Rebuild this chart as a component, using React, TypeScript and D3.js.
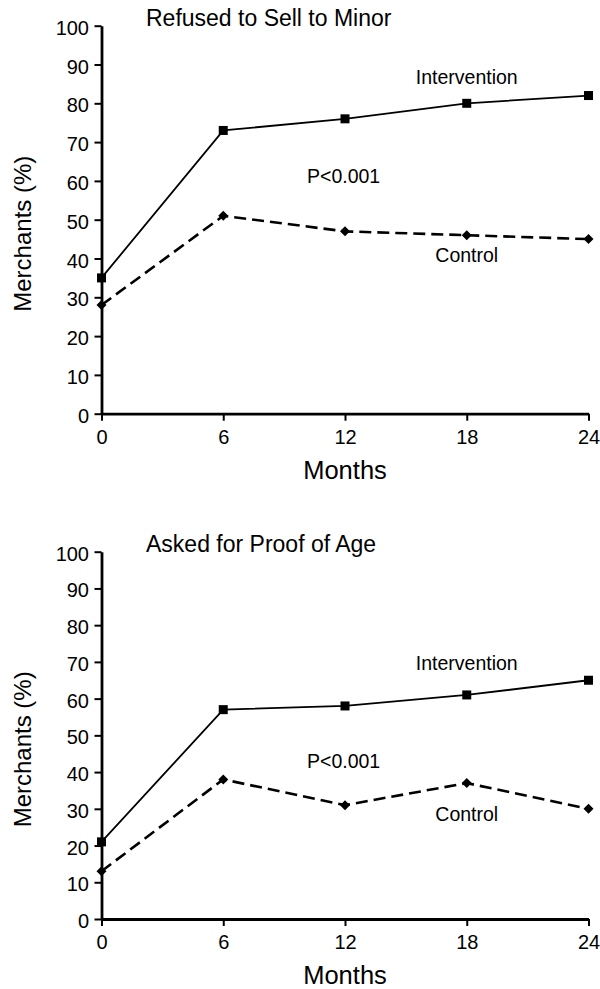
import React, { useRef, useEffect } from "react";
import * as d3 from "d3";

// data
const months = [0, 6, 12, 18, 24];
const yTicks = [0, 10, 20, 30, 40, 50, 60, 70, 80, 90, 100];
const refusedIntervention = [35, 73, 76, 80, 82];
const refusedControl = [28, 51, 47, 46, 45];
const proofIntervention = [21, 57, 58, 61, 65];
const proofControl = [13, 38, 31, 37, 30];

const panels = [
  {
    title: "Refused to Sell to Minor",
    intervention: refusedIntervention,
    control: refusedControl,
    yRange: [413.7, 25.7],
    interventionLabelY: 85,
    controlLabelY: 39,
    pLabelY: 59.5,
  },
  {
    title: "Asked for Proof of Age",
    intervention: proofIntervention,
    control: proofControl,
    yRange: [919, 551.7],
    interventionLabelY: 67.8,
    controlLabelY: 26.8,
    pLabelY: 41.1,
  },
];

const FONT = "'Liberation Sans', Arial, Helvetica, sans-serif";

export default function App() {
  const svgRef = useRef<SVGSVGElement>(null);

  useEffect(() => {
    const svg = d3.select(svgRef.current);
    svg.selectAll("*").remove();

    const x = d3.scaleLinear().domain([0, 24]).range([101.5, 588.5]);

    panels.forEach((p) => {
      const y = d3.scaleLinear().domain([0, 100]).range(p.yRange);
      const g = svg.append("g");

      // axes
      const xAxis = g
        .append("g")
        .attr("transform", `translate(0,${y(0)})`)
        .call(d3.axisBottom(x).tickValues(months).tickSize(7).tickSizeOuter(0).tickPadding(8.8));
      const yAxis = g
        .append("g")
        .attr("transform", `translate(${x(0)},0)`)
        .call(d3.axisLeft(y).tickValues(yTicks).tickSize(7).tickSizeOuter(0).tickPadding(5.5));

      [xAxis, yAxis].forEach((a) => {
        a.select(".domain").attr("stroke", "#000").attr("stroke-width", 2.8);
        a.selectAll(".tick line").attr("stroke", "#000").attr("stroke-width", 2);
        a.selectAll(".tick text")
          .attr("fill", "#000")
          .style("font-family", FONT)
          .style("font-size", "20px");
      });
      yAxis.selectAll(".tick text").attr("dy", 8.5);

      const line = d3
        .line<number>()
        .x((_, i) => x(months[i]))
        .y((d) => y(d));

      // control (dashed, diamonds)
      g.append("path")
        .datum(p.control)
        .attr("d", line)
        .attr("fill", "none")
        .attr("stroke", "#000")
        .attr("stroke-width", 2.6)
        .attr("stroke-dasharray", "12,6");
      g.selectAll(".diamond")
        .data(p.control)
        .join("path")
        .attr("class", "diamond")
        .attr("d", d3.symbol(d3.symbolDiamond2, 64)())
        .attr("transform", (d, i) => `translate(${x(months[i])},${y(d)})`)
        .attr("fill", "#000");

      // intervention (solid, squares)
      g.append("path")
        .datum(p.intervention)
        .attr("d", line)
        .attr("fill", "none")
        .attr("stroke", "#000")
        .attr("stroke-width", 1.8);
      g.selectAll(".square")
        .data(p.intervention)
        .join("rect")
        .attr("class", "square")
        .attr("x", (_, i) => x(months[i]) - 4.5)
        .attr("y", (d) => y(d) - 4.5)
        .attr("width", 9)
        .attr("height", 9)
        .attr("fill", "#000");

      // labels
      const text = (tx: number, ty: number, s: string, size: number, anchor = "start") =>
        g.append("text")
          .attr("x", tx)
          .attr("y", ty)
          .attr("text-anchor", anchor)
          .style("font-family", FONT)
          .style("font-size", `${size}px`)
          .attr("fill", "#000")
          .text(s);

      text(146, y(100), p.title, 23);
      text(x(18), y(p.interventionLabelY), "Intervention", 19.5, "middle");
      text(x(18), y(p.controlLabelY), "Control", 19.5, "middle");
      text(307, y(p.pLabelY), "P<0.001", 19.5);
      text(x(12), y(0) + 65, "Months", 25.5, "middle");

      g.append("text")
        .attr("transform", `translate(31,${(y(0) + y(100)) / 2 + 14}) rotate(-90)`)
        .attr("text-anchor", "middle")
        .style("font-family", FONT)
        .style("font-size", "24px")
        .attr("fill", "#000")
        .text("Merchants (%)");
    });
  }, []);

  return (
    <div style={{ position: "absolute", left: 0, top: 0, background: "#fff" }}>
      <svg ref={svgRef} width={600} height={989} style={{ display: "block" }}></svg>
    </div>
  );
}
